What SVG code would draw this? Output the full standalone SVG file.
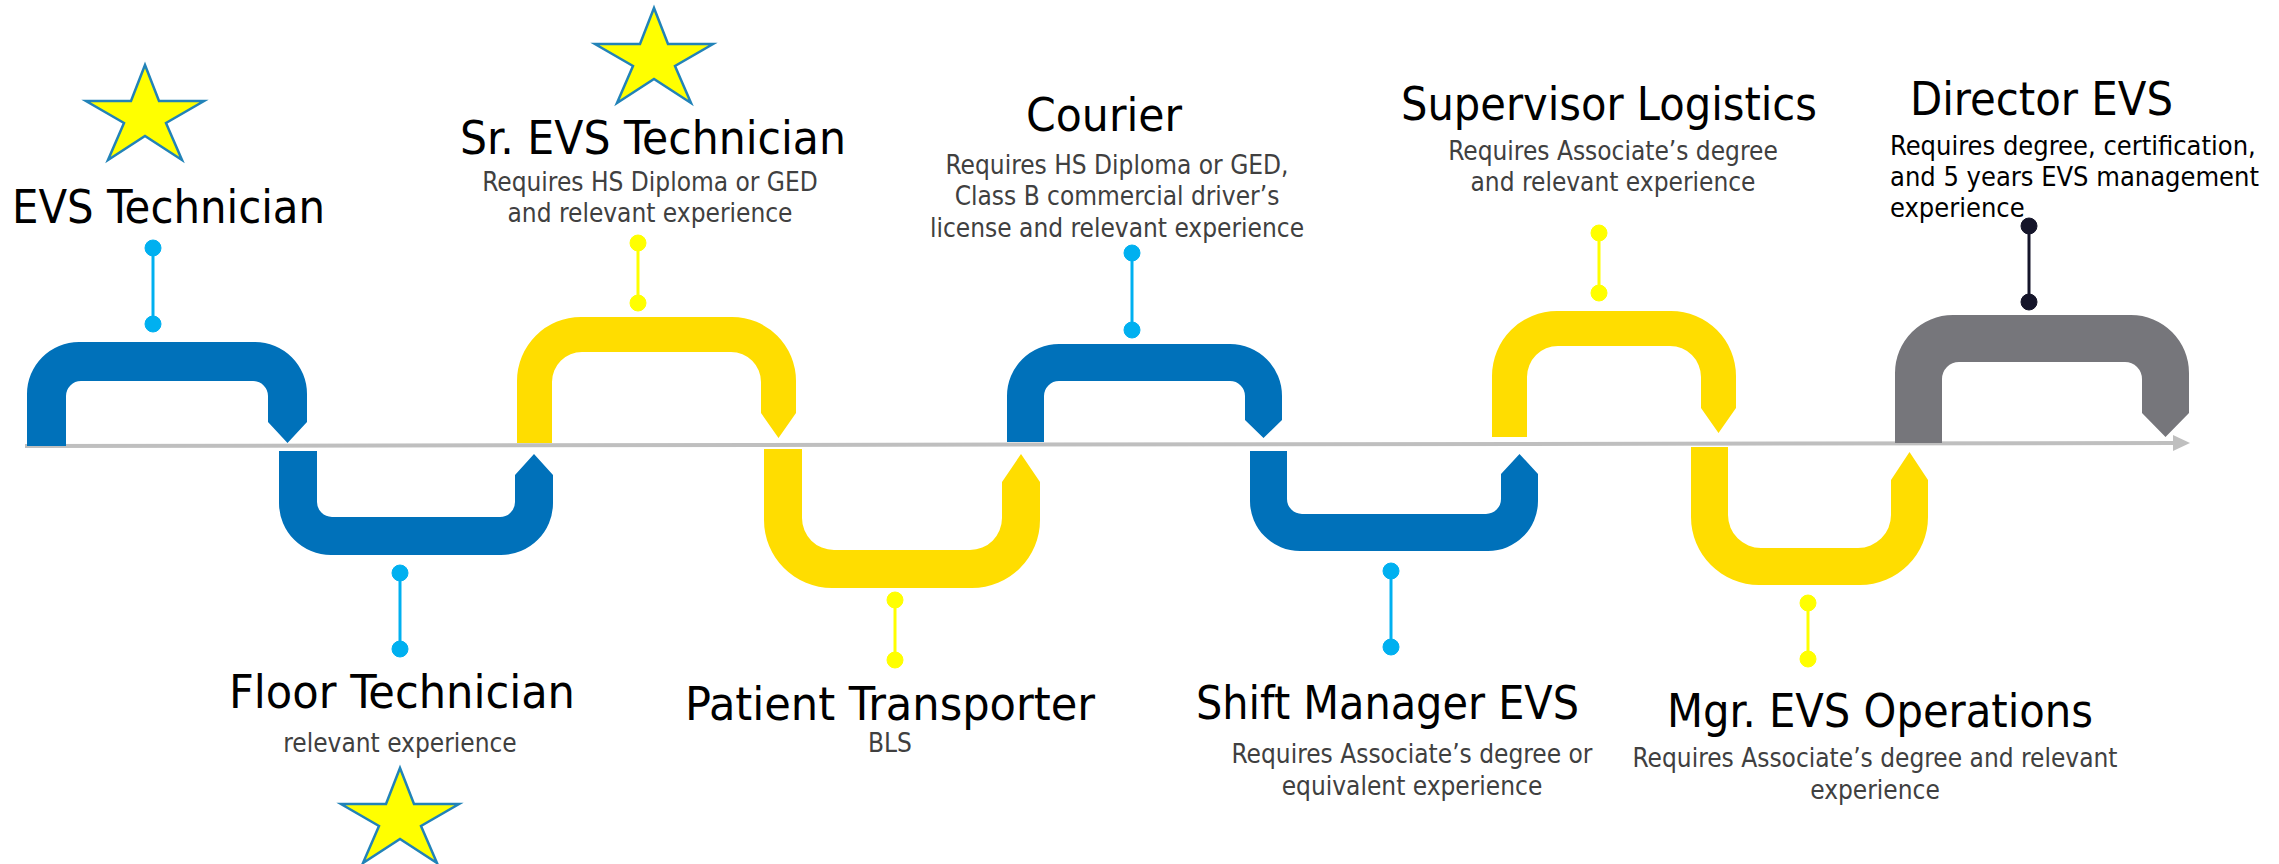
<svg xmlns="http://www.w3.org/2000/svg" width="2279" height="864" viewBox="0 0 2279 864">
<defs>
<style>
.title{font-family:"DejaVu Sans Condensed","DejaVu Sans",sans-serif;font-stretch:condensed;font-size:47px;fill:#000;text-anchor:middle}
.sub{font-family:"DejaVu Sans Condensed","DejaVu Sans",sans-serif;font-stretch:condensed;font-size:26px;fill:#404040;text-anchor:middle}
.dir{font-family:"DejaVu Sans Condensed","DejaVu Sans",sans-serif;font-stretch:condensed;font-size:27px;fill:#000}
.blue{fill:#0071BA}
.yel{fill:#FFDD00}
.gray{fill:#76767B}
.star{fill:#FFFF00;stroke:#2283B8;stroke-width:2.5;stroke-linejoin:miter}
.cb{stroke:#00B0F0;fill:#00B0F0}
.cy{stroke:#FFFF00;fill:#FFFF00}
.ck{stroke:#15152A;fill:#15152A}
.conn line{stroke-width:3}
</style>
<polygon id="starShape" points="0,0 14,36 59,36 21,58 37,95 0,71 -37,95 -21,58 -59,36 -14,36"/>
</defs>
<rect width="2279" height="864" fill="#fff"/>

<g id="axis">
<line x1="25" y1="446" x2="2176" y2="443" stroke="#BFBFBF" stroke-width="4"/>
<polygon points="2173,435 2190,443 2173,451" fill="#BFBFBF"/>
</g>

<g id="node-evs-technician">
<path class="blue" d="M27,446 L27,394 A52,52 0 0 1 79,342 L255,342 A52,52 0 0 1 307,394 L307,422 L287.5,443 L268,422 L268,396 A15,15 0 0 0 253,381 L81,381 A15,15 0 0 0 66,396 L66,446 Z"/>
<use href="#starShape" class="star" transform="translate(145,65)"/>
<text class="title" x="168.5" y="223" textLength="313" lengthAdjust="spacingAndGlyphs">EVS Technician</text>
</g>

<g id="node-floor-technician">
<path class="blue" d="M279,451 L317,451 L317,502 A15,15 0 0 0 332,517 L500,517 A15,15 0 0 0 515,502 L515,475 L534,454 L553,475 L553,503 A52,52 0 0 1 501,555 L331,555 A52,52 0 0 1 279,503 Z"/>
<text class="title" x="402" y="708" textLength="346" lengthAdjust="spacingAndGlyphs">Floor Technician</text>
<text class="sub" x="400" y="752">relevant experience</text>
<use href="#starShape" class="star" transform="translate(400,768)"/>
</g>

<g id="node-sr-evs-technician">
<path class="yel" d="M517,443 L517,381 A64,64 0 0 1 581,317 L732,317 A64,64 0 0 1 796,381 L796,413 L778.5,438 L761,413 L761,382 A30,30 0 0 0 731,352 L582,352 A30,30 0 0 0 552,382 L552,443 Z"/>
<use href="#starShape" class="star" transform="translate(654,8)"/>
<text class="title" x="653" y="154" textLength="386" lengthAdjust="spacingAndGlyphs">Sr. EVS Technician</text>
<text class="sub" x="650" y="191">Requires HS Diploma or GED</text>
<text class="sub" x="650" y="222">and relevant experience</text>
</g>

<g id="node-patient-transporter">
<path class="yel" d="M764,449 L802,449 L802,518 A32,32 0 0 0 834,550 L970,550 A32,32 0 0 0 1002,518 L1002,482 L1021,454 L1040,482 L1040,520 A68,68 0 0 1 972,588 L832,588 A68,68 0 0 1 764,520 Z"/>
<text class="title" x="890" y="720" textLength="410" lengthAdjust="spacingAndGlyphs">Patient Transporter</text>
<text class="sub" x="890" y="752">BLS</text>
</g>

<g id="node-courier">
<path class="blue" d="M1007,442 L1007,396 A52,52 0 0 1 1059,344 L1230,344 A52,52 0 0 1 1282,396 L1282,420 L1263.5,438 L1245,420 L1245,396 A15,15 0 0 0 1230,381 L1059,381 A15,15 0 0 0 1044,396 L1044,442 Z"/>
<text class="title" x="1104" y="131" textLength="156" lengthAdjust="spacingAndGlyphs">Courier</text>
<text class="sub" x="1117" y="174">Requires HS Diploma or GED,</text>
<text class="sub" x="1117" y="205">Class B commercial driver’s</text>
<text class="sub" x="1117" y="237">license and relevant experience</text>
</g>

<g id="node-shift-manager-evs">
<path class="blue" d="M1250,451 L1287,451 L1287,499 A15,15 0 0 0 1302,514 L1486,514 A15,15 0 0 0 1501,499 L1501,474 L1519.5,454 L1538,474 L1538,501 A50,50 0 0 1 1488,551 L1300,551 A50,50 0 0 1 1250,501 Z"/>
<text class="title" x="1387.5" y="719" textLength="383" lengthAdjust="spacingAndGlyphs">Shift Manager EVS</text>
<text class="sub" x="1412" y="763">Requires Associate’s degree or</text>
<text class="sub" x="1412" y="795">equivalent experience</text>
</g>

<g id="node-supervisor-logistics">
<path class="yel" d="M1492,437 L1492,376 A65,65 0 0 1 1557,311 L1671,311 A65,65 0 0 1 1736,376 L1736,408 L1718.5,433 L1701,408 L1701,377 A31,31 0 0 0 1670,346 L1558,346 A31,31 0 0 0 1527,377 L1527,437 Z"/>
<text class="title" x="1609" y="120" textLength="416" lengthAdjust="spacingAndGlyphs">Supervisor Logistics</text>
<text class="sub" x="1613" y="160">Requires Associate’s degree</text>
<text class="sub" x="1613" y="191">and relevant experience</text>
</g>

<g id="node-mgr-evs-operations">
<path class="yel" d="M1691,447 L1728,447 L1728,515 A33,33 0 0 0 1761,548 L1858,548 A33,33 0 0 0 1891,515 L1891,480 L1909.5,452 L1928,480 L1928,517 A68,68 0 0 1 1860,585 L1759,585 A68,68 0 0 1 1691,517 Z"/>
<text class="title" x="1880" y="727" textLength="426" lengthAdjust="spacingAndGlyphs">Mgr. EVS Operations</text>
<text class="sub" x="1875" y="767">Requires Associate’s degree and relevant</text>
<text class="sub" x="1875" y="799">experience</text>
</g>

<g id="node-director-evs">
<path class="gray" d="M1895,443 L1895,373 A58,58 0 0 1 1953,315 L2131,315 A58,58 0 0 1 2189,373 L2189,413 L2165.5,437 L2142,413 L2142,379 A17,17 0 0 0 2125,362 L1959,362 A17,17 0 0 0 1942,379 L1942,443 Z"/>
<text class="title" x="2041.5" y="115" textLength="263" lengthAdjust="spacingAndGlyphs">Director EVS</text>
<text class="dir" x="1890" y="155">Requires degree, certification,</text>
<text class="dir" x="1890" y="186">and 5 years EVS management</text>
<text class="dir" x="1890" y="217">experience</text>
</g>

<g id="connectors" class="conn">
<g class="cb"><line x1="153" y1="248" x2="153" y2="324"/><circle cx="153" cy="248" r="8"/><circle cx="153" cy="324" r="8"/></g>
<g class="cy"><line x1="638" y1="243" x2="638" y2="303"/><circle cx="638" cy="243" r="8"/><circle cx="638" cy="303" r="8"/></g>
<g class="cb"><line x1="1132" y1="253" x2="1132" y2="330"/><circle cx="1132" cy="253" r="8"/><circle cx="1132" cy="330" r="8"/></g>
<g class="cy"><line x1="1599" y1="233" x2="1599" y2="293"/><circle cx="1599" cy="233" r="8"/><circle cx="1599" cy="293" r="8"/></g>
<g class="ck"><line x1="2029" y1="226" x2="2029" y2="302"/><circle cx="2029" cy="226" r="8"/><circle cx="2029" cy="302" r="8"/></g>
<g class="cb"><line x1="400" y1="573" x2="400" y2="649"/><circle cx="400" cy="573" r="8"/><circle cx="400" cy="649" r="8"/></g>
<g class="cy"><line x1="895" y1="600" x2="895" y2="660"/><circle cx="895" cy="600" r="8"/><circle cx="895" cy="660" r="8"/></g>
<g class="cb"><line x1="1391" y1="571" x2="1391" y2="647"/><circle cx="1391" cy="571" r="8"/><circle cx="1391" cy="647" r="8"/></g>
<g class="cy"><line x1="1808" y1="603" x2="1808" y2="659"/><circle cx="1808" cy="603" r="8"/><circle cx="1808" cy="659" r="8"/></g>
</g>
</svg>
